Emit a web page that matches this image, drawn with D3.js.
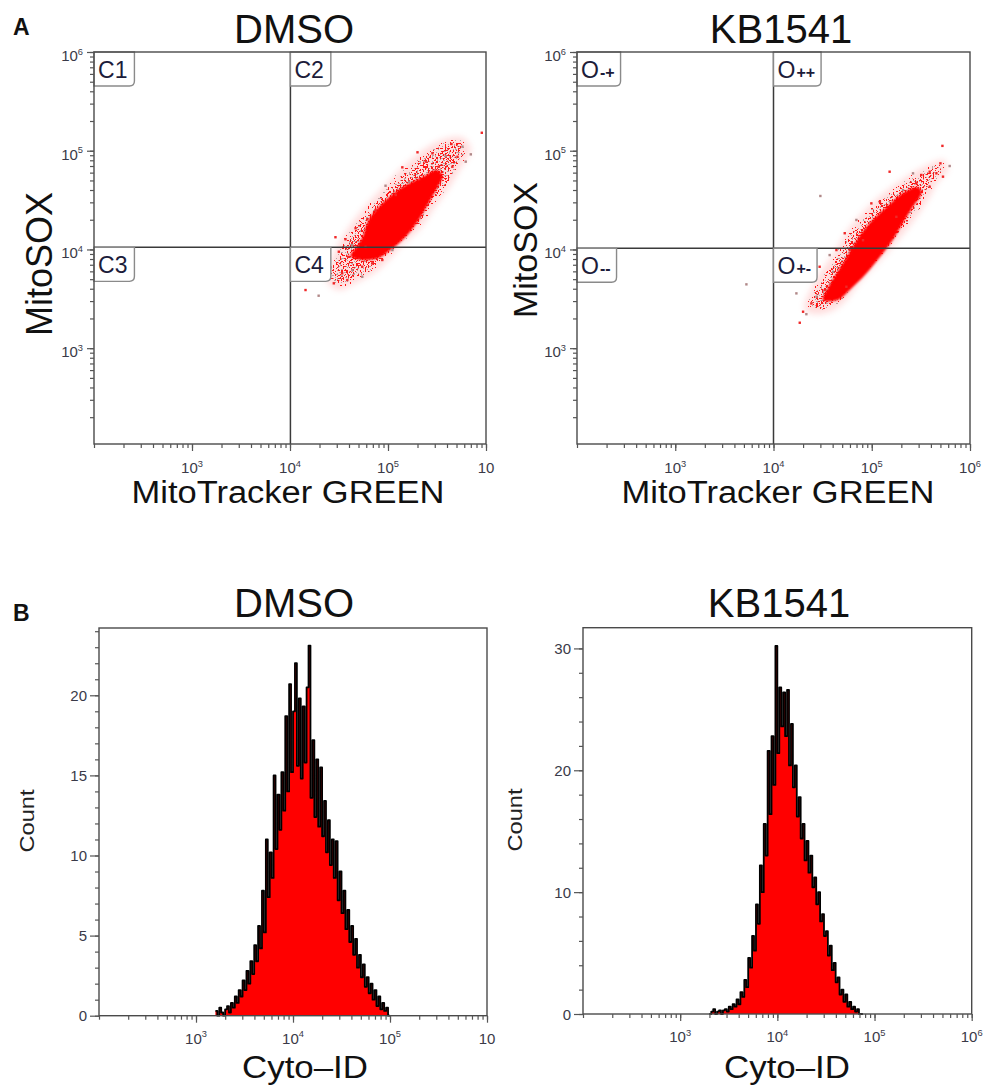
<!DOCTYPE html>
<html>
<head>
<meta charset="utf-8">
<script src="https://cdnjs.cloudflare.com/ajax/libs/d3/7.8.5/d3.min.js"></script>
<style>
  body { margin: 0; background: #fff; }
  svg { display: block; }
  text { font-family: "Liberation Sans", Arial, sans-serif; }
</style>
</head>
<body>
<svg id="figure" width="984" height="1086"></svg>
<script>
const d3 = window.d3;

// ---------- data (fluorescence intensities, counts) ----------
const decadeTicks = [1e3, 1e4, 1e5, 1e6];
const fullExponents = ["3", "4", "5", "6"];
const clippedExponents = ["3", "4", "5", ""]; // right-most label is cut off in the left panels

const dmsoQuadrants = ["C1", "C2", "C3", "C4"];
const kbQuadrants = ["O-+", "O++", "O--", "O+-"];
// gate position [MitoTracker, MitoSOX]
const dmsoGate = [10100, 10500];
const kbGate = [10000, 10300];

// dense centre of the DMSO cloud [MitoTracker, MitoSOX]
const dmsoCore = [[41500, 8570], [47700, 10600], [55000, 13400], [63400, 19900], [88100, 29500],
  [141000, 42900], [226000, 54200], [314000, 63700], [361000, 55400], [321000, 42900],
  [260000, 29500], [206000, 19900], [151000, 13400], [106000, 9860], [80200, 8180], [55000, 7810]];
// sparser outer part of the DMSO cloud
const dmsoHalo = [[23600, 4900], [27800, 8770], [43500, 18900], [84000, 40000], [170000, 80500],
  [345000, 128000], [579000, 135000], [700000, 102000], [552000, 66800], [417000, 41900],
  [286000, 25100], [215000, 16500], [135000, 10800], [106000, 8180], [74600, 5900],
  [46700, 4570], [31300, 3880]];
// single events around the DMSO cloud
const dmsoEvents = [[906000, 152000], [700000, 91900], [200000, 96400], [140000, 67900], [94400, 44200],
  [29100, 13300], [36800, 12700], [25900, 6590], [28000, 4540], [14400, 3880], [19600, 3400],
  [46700, 16400], [61400, 20200], [575000, 110000], [444000, 117000], [512000, 86900],
  [388000, 88300], [284000, 94100], [242000, 77500], [621000, 77500], [39300, 8430],
  [34100, 5730], [43200, 6180], [54600, 6680], [69000, 7220], [43200, 11100], [74600, 25100],
  [120000, 35600], [164000, 48500], [331000, 68900], [454000, 68900], [54600, 5290],
  [38400, 4900], [87500, 7820], [111000, 9860], [59000, 10600], [31500, 9480], [23000, 5290]];

const kbCore = [[31700, 3070], [34800, 3880], [44000, 5770], [55600, 8370], [70300, 12400],
  [95300, 18500], [142000, 26900], [207000, 37200], [294000, 42900], [322000, 38200],
  [261000, 26900], [207000, 18500], [163000, 12400], [121000, 8370], [88900, 5770],
  [59700, 3880], [45000, 3070]];
const kbHalo = [[20800, 2430], [26300, 4680], [42000, 9420], [62500, 17700], [110000, 31700],
  [202000, 50500], [354000, 70000], [540000, 80500], [593000, 63700], [469000, 48200],
  [371000, 31700], [255000, 18500], [152000, 9860], [79100, 4900], [47200, 2670], [29500, 2210]];
const kbEvents = [[524000, 112000], [621000, 70000], [500000, 74500], [152000, 61300], [263000, 59000],
  [320000, 56800], [455000, 59000], [30000, 34800], [121000, 30400], [99100, 29300],
  [69800, 19900], [53100, 14600], [43700, 9860], [37300, 8770], [29500, 6680], [25200, 4900],
  [17100, 3590], [24300, 2840], [20000, 2340], [21600, 2210], [18500, 1810], [33200, 3880],
  [27400, 3320], [389000, 43200], [284000, 46800], [208000, 40000], [531000, 54600],
  [389000, 61300], [5300, 4430], [59700, 9860], [81500, 12400], [40400, 5940], [55200, 4190],
  [178000, 21400]];

// Cyto-ID histograms: log bins, each 10^0.02 wide
const binRatio = 1.04713;
const dmsoBinStart = 1585;
const kbBinStart = 1995;
const dmsoCounts = [0.3, 0, 0.5, 0.2, 0, 0.4, 0.6, 0.2, 0.8, 0.5,
  1.2, 0.8, 1.6, 1.2, 2.2, 1.6, 2.8, 2.0, 3.4, 2.6,
  4.4, 3.4, 5.6, 4.2, 7.8, 5.2, 11.0, 7.4, 10.2, 8.6,
  15.0, 10.4, 13.8, 11.6, 15.2, 12.8, 18.7, 14.0, 20.7, 15.2,
  19.0, 22.0, 15.6, 19.8, 14.8, 19.3, 15.8, 20.5, 23.1, 13.6,
  17.2, 12.4, 16.0, 11.8, 15.5, 11.2, 13.4, 10.2, 12.2, 9.4,
  11.0, 8.6, 10.9, 7.2, 9.0, 6.4, 7.8, 5.4, 6.6, 4.6,
  5.6, 3.8, 4.8, 3.0, 3.8, 2.4, 3.2, 1.8, 2.4, 1.4,
  2.0, 1.0, 1.6, 0.6, 1.2, 0.4, 0.8, 0.3, 0.5, 0];
const kbCounts = [0, 0.2, 0.4, 0, 0.2, 0.3, 0, 0.3, 0.4, 0.2,
  0.6, 0.4, 0.8, 0.6, 1.2, 0.8, 1.8, 1.4, 2.8, 2.2,
  4.6, 3.8, 6.4, 5.2, 9.0, 7.4, 12.2, 10.0, 15.6, 13.0,
  21.6, 16.4, 22.8, 18.8, 30.2, 21.4, 26.8, 23.6, 26.4, 22.8,
  26.6, 20.4, 23.8, 18.6, 20.4, 16.2, 17.8, 14.4, 15.6, 12.6,
  14.2, 11.6, 13.0, 10.4, 11.2, 9.0, 10.0, 7.6, 8.2, 6.4,
  6.8, 4.8, 5.6, 3.6, 4.2, 2.6, 3.0, 1.6, 2.0, 1.0,
  1.6, 0.6, 1.0, 0.4, 0.6, 0.2, 0.4, 0, 0];
const dmsoCountTicks = [0, 5, 10, 15, 20];
const kbCountTicks = [0, 10, 20, 30];

// ---------- drawing ----------
const svg = d3.select("#figure");
const defs = svg.append("defs");

function blurFilter(id, sd) {
  defs.append("filter").attr("id", id).attr("x", "-20%").attr("y", "-20%")
    .attr("width", "140%").attr("height", "140%")
    .append("feGaussianBlur").attr("stdDeviation", sd);
}
blurFilter("soft", 3);
blurFilter("softCore", 1.2);

// dotted texture whose density fades out towards the edge of the shape
function speckleFilter(id, color, seed, freq, cut, spread) {
  const f = defs.append("filter").attr("id", id)
    .attr("x", "-25%").attr("y", "-25%").attr("width", "150%").attr("height", "150%")
    .attr("color-interpolation-filters", "sRGB");
  f.append("feTurbulence").attr("type", "fractalNoise").attr("baseFrequency", freq)
    .attr("numOctaves", 1).attr("seed", seed).attr("result", "noise");
  f.append("feColorMatrix").attr("in", "noise").attr("type", "matrix")
    .attr("values", "0 0 0 0 0  0 0 0 0 0  0 0 0 0 0  1 0 0 0 0").attr("result", "grain");
  f.append("feGaussianBlur").attr("in", "SourceAlpha").attr("stdDeviation", spread)
    .attr("result", "body");
  f.append("feComposite").attr("in", "grain").attr("in2", "body").attr("operator", "arithmetic")
    .attr("k1", 0).attr("k2", 1).attr("k3", 0.5).attr("k4", -0.5).attr("result", "sum");
  f.append("feComponentTransfer").attr("in", "sum").attr("result", "mask")
    .append("feFuncA").attr("type", "discrete")
    .attr("tableValues", d3.range(40).map(k => (k / 40 >= cut ? 1 : 0)).join(" "));
  f.append("feFlood").attr("flood-color", color).attr("result", "paint");
  f.append("feComposite").attr("in", "paint").attr("in2", "mask").attr("operator", "in");
}
speckleFilter("speckleRed", "#ff1818", 4, 0.6, 0.55, 5);
speckleFilter("speckleGrey", "#b9a3a3", 11, 0.65, 0.58, 5);

const tickColor = "#555";
const labelColor = "#3a3a48";

function powerLabel(text, exp, size) {
  text.append("tspan").text("10");
  if (exp) {
    text.append("tspan").attr("dy", -size * 0.42).attr("font-size", size * 0.62).text(exp);
  }
}

function styleAxis(sel) {
  sel.select(".domain").remove();
  sel.selectAll(".tick line").attr("stroke", tickColor).attr("stroke-width", 1.2);
}

function drawLogX(g, x, bottom, exps, labelDy) {
  g.append("g").attr("transform", `translate(0,${bottom})`)
    .call(d3.axisBottom(x).tickValues(x.ticks()).tickSize(4).tickFormat(""))
    .call(styleAxis);
  g.append("g").attr("transform", `translate(0,${bottom})`)
    .call(d3.axisBottom(x).tickValues(decadeTicks).tickSize(7).tickFormat(""))
    .call(styleAxis);
  decadeTicks.forEach((v, i) => {
    const t = g.append("text").attr("x", x(v)).attr("y", bottom + labelDy)
      .attr("text-anchor", "middle").attr("font-size", 15).attr("fill", labelColor);
    powerLabel(t, exps[i], 15);
  });
}

function drawScatter(p) {
  const x = d3.scaleLog().domain([100, 1e6]).range([p.left, p.right]);
  const y = d3.scaleLog().domain([107, 1e6]).range([p.bottom, p.top]);
  const g = svg.append("g");

  g.append("text").attr("x", p.titleX).attr("y", 43).attr("text-anchor", "middle")
    .attr("font-size", 40).attr("fill", "#111").text(p.title);

  const clipId = "clip-" + p.id;
  defs.append("clipPath").attr("id", clipId).append("rect")
    .attr("x", p.left).attr("y", p.top)
    .attr("width", p.right - p.left).attr("height", p.bottom - p.top);
  const plot = g.append("g").attr("clip-path", `url(#${clipId})`);

  const cloud = d3.line().x(d => x(d[0])).y(d => y(d[1]))
    .curve(d3.curveCatmullRomClosed.alpha(0.5));
  plot.append("path").attr("d", cloud(p.halo))
    .attr("fill", "#ff7878").attr("opacity", 0.25).attr("filter", "url(#soft)");
  plot.append("path").attr("d", cloud(p.halo))
    .attr("fill", "#000").attr("filter", "url(#speckleGrey)");
  plot.append("path").attr("d", cloud(p.halo))
    .attr("fill", "#000").attr("filter", "url(#speckleRed)");
  plot.append("path").attr("d", cloud(p.core))
    .attr("fill", "#ff0000").attr("filter", "url(#softCore)");
  plot.selectAll("rect.event").data(p.events).join("rect")
    .attr("class", "event")
    .attr("x", d => x(d[0]) - 1.2).attr("y", d => y(d[1]) - 1.2)
    .attr("width", 2.4).attr("height", 2.4)
    .attr("fill", (d, i) => (i % 3 === 1 ? "#b08888" : "#f02828"));

  // gates
  g.append("line").attr("x1", x(p.gate[0])).attr("x2", x(p.gate[0]))
    .attr("y1", p.top).attr("y2", p.bottom)
    .attr("stroke", "#3a3a3a").attr("stroke-width", 1.5);
  g.append("line").attr("x1", p.left).attr("x2", p.right)
    .attr("y1", y(p.gate[1])).attr("y2", y(p.gate[1]))
    .attr("stroke", "#3a3a3a").attr("stroke-width", 1.5);

  // quadrant name boxes
  const corners = [[100, 1e6], [p.gate[0], 1e6], [100, p.gate[1]], [p.gate[0], p.gate[1]]];
  corners.forEach((c, i) => {
    const box = g.append("g").attr("transform", `translate(${x(c[0])},${y(c[1])})`);
    const path = box.append("path");
    const name = p.quadrants[i];
    const t = box.append("text").attr("x", 4).attr("y", 26)
      .attr("font-family", "'Open Sans', sans-serif").attr("font-size", 23).attr("fill", "#1c1c3a");
    t.append("tspan").text(name[0]);
    if (name[0] === "O") {
      t.append("tspan").attr("font-size", 16).attr("dx", 1).attr("font-weight", "bold")
        .text(name.slice(1));
    } else {
      t.append("tspan").text(name.slice(1));
    }
    const w = t.node().getComputedTextLength() + 11;
    const h = 34, r = 5;
    path.attr("d", `M0,0 H${w} V${h - r} Q${w},${h} ${w - r},${h} H0 Z`)
      .attr("fill", "#fff").attr("stroke", "#8a8a8a").attr("stroke-width", 1.4);
  });

  // frame
  g.append("rect").attr("x", p.left).attr("y", p.top)
    .attr("width", p.right - p.left).attr("height", p.bottom - p.top)
    .attr("fill", "none").attr("stroke", "#4a4a4a").attr("stroke-width", 1.4);

  // y axis
  g.append("g").attr("transform", `translate(${p.left},0)`)
    .call(d3.axisLeft(y).tickValues(y.ticks()).tickSize(4).tickFormat(""))
    .call(styleAxis);
  g.append("g").attr("transform", `translate(${p.left},0)`)
    .call(d3.axisLeft(y).tickValues(decadeTicks).tickSize(7).tickFormat(""))
    .call(styleAxis);
  decadeTicks.forEach((v, i) => {
    const t = g.append("text").attr("x", p.left - 11).attr("y", y(v) + 9)
      .attr("text-anchor", "end").attr("font-size", 15).attr("fill", labelColor);
    powerLabel(t, fullExponents[i], 15);
  });

  drawLogX(g, x, p.bottom, p.xExp, 29);

  g.append("text").attr("x", p.xTitleX).attr("y", 503).attr("text-anchor", "middle")
    .attr("font-size", 31).attr("fill", "#111")
    .attr("textLength", 313).attr("lengthAdjust", "spacingAndGlyphs")
    .text("MitoTracker GREEN");
  g.append("text")
    .attr("transform", `translate(${p.yTitleX},${p.yTitleY}) rotate(-90)`)
    .attr("text-anchor", "middle").attr("font-size", p.yTitleSize).attr("fill", "#111")
    .text("MitoSOX");
}

function drawHistogram(p) {
  const x = d3.scaleLog().domain([100, 1e6]).range([p.left, p.right]);
  const y = d3.scaleLinear().domain([0, p.yMax]).range([p.bottom, p.top]);
  const g = svg.append("g");

  g.append("text").attr("x", p.titleX).attr("y", 617).attr("text-anchor", "middle")
    .attr("font-size", 40).attr("fill", "#111").text(p.title);

  const bins = p.counts.map((c, i) => ({ x0: p.binStart * binRatio ** i, count: c }));
  bins.push({ x0: p.binStart * binRatio ** p.counts.length, count: 0 });

  const area = d3.area().x(d => x(d.x0)).y0(y(0)).y1(d => y(d.count)).curve(d3.curveStepAfter);
  const outline = d3.line().x(d => x(d.x0)).y(d => y(d.count)).curve(d3.curveStepAfter);

  g.append("path").datum(bins).attr("d", area).attr("fill", "#ff0000");
  g.append("path").datum(bins).attr("d", outline)
    .attr("fill", "none").attr("stroke", "#000").attr("stroke-width", 1.8)
    .attr("stroke-linejoin", "round");

  g.append("rect").attr("x", p.left).attr("y", p.top)
    .attr("width", p.right - p.left).attr("height", p.bottom - p.top)
    .attr("fill", "none").attr("stroke", "#4a4a4a").attr("stroke-width", 1.4);

  g.append("g").attr("transform", `translate(${p.left},0)`)
    .call(d3.axisLeft(y).tickValues(y.ticks(p.minorCount)).tickSize(4).tickFormat(""))
    .call(styleAxis);
  g.append("g").attr("transform", `translate(${p.left},0)`)
    .call(d3.axisLeft(y).tickValues(p.countTicks).tickSize(9).tickFormat(""))
    .call(styleAxis);
  p.countTicks.forEach(v => {
    g.append("text").attr("x", p.left - 12).attr("y", y(v) + 5.5)
      .attr("text-anchor", "end").attr("font-size", 15).attr("fill", labelColor)
      .text(v);
  });

  drawLogX(g, x, p.bottom, p.xExp, 28);

  g.append("text").attr("x", p.xTitleX).attr("y", 1078).attr("text-anchor", "middle")
    .attr("font-size", 32).attr("fill", "#111")
    .attr("textLength", 126).attr("lengthAdjust", "spacingAndGlyphs")
    .text("Cyto\u2013ID");
  g.append("text")
    .attr("transform", `translate(${p.countX},${p.countY}) rotate(-90)`)
    .attr("text-anchor", "middle").attr("font-family", "'Open Sans', sans-serif")
    .attr("font-size", 21).attr("fill", "#222")
    .attr("textLength", 63).attr("lengthAdjust", "spacingAndGlyphs")
    .text("Count");
}

drawScatter({
  id: "dmso", title: "DMSO", titleX: 294, left: 94, right: 486, top: 52, bottom: 444,
  gate: dmsoGate, quadrants: dmsoQuadrants, core: dmsoCore, halo: dmsoHalo, events: dmsoEvents,
  xExp: clippedExponents, xTitleX: 288, yTitleX: 52, yTitleY: 264, yTitleSize: 36
});
drawScatter({
  id: "kb", title: "KB1541", titleX: 781, left: 577, right: 970, top: 52, bottom: 444,
  gate: kbGate, quadrants: kbQuadrants, core: kbCore, halo: kbHalo, events: kbEvents,
  xExp: fullExponents, xTitleX: 778, yTitleX: 537, yTitleY: 250, yTitleSize: 34
});
drawHistogram({
  title: "DMSO", titleX: 294, left: 99, right: 487, top: 628, bottom: 1015.7, yMax: 24.2,
  counts: dmsoCounts, binStart: dmsoBinStart, countTicks: dmsoCountTicks, minorCount: 24,
  xExp: clippedExponents, xTitleX: 305, countX: 34, countY: 821
});
drawHistogram({
  title: "KB1541", titleX: 779, left: 583, right: 971.7, top: 627.7, bottom: 1014, yMax: 31.7,
  counts: kbCounts, binStart: kbBinStart, countTicks: kbCountTicks, minorCount: 16,
  xExp: fullExponents, xTitleX: 787, countX: 522, countY: 820
});

svg.append("text").attr("x", 13).attr("y", 35).attr("font-size", 23)
  .attr("font-weight", "bold").attr("fill", "#111").text("A");
svg.append("text").attr("x", 13).attr("y", 621).attr("font-size", 23)
  .attr("font-weight", "bold").attr("fill", "#111").text("B");
</script>
</body>
</html>
